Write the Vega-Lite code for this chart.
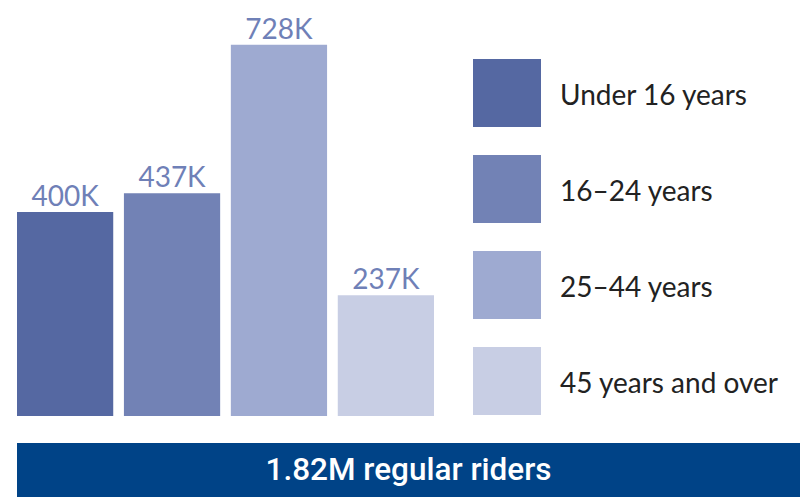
{
  "$schema": "https://vega.github.io/schema/vega-lite/v6.json",
  "padding": {"left": 17, "top": 0, "right": 0, "bottom": 0},
  "background": "white",
  "config": {"view": {"stroke": null}, "style": {"guide-label": {"lineHeight": 8}}},
  "spacing": 27,
  "vconcat": [
    {
      "width": 417,
      "height": 416,
      "data": {"values": [
        {"group": "Under 16 years", "value": 400, "label": "400K"},
        {"group": "16–24 years", "value": 437, "label": "437K"},
        {"group": "25–44 years", "value": 728, "label": "728K"},
        {"group": "45 years and over", "value": 237, "label": "237K"}
      ]},
      "encoding": {
        "x": {"field": "group", "type": "nominal", "sort": null, "axis": null,
              "scale": {"paddingInner": 0.1, "paddingOuter": 0}},
        "y": {"field": "value", "type": "quantitative", "axis": null,
              "scale": {"domain": [0, 816], "nice": false}}
      },
      "layer": [
        {
          "mark": {"type": "bar"},
          "encoding": {
            "color": {"field": "group", "type": "nominal", "sort": null,
              "scale": {"domain": ["Under 16 years", "16–24 years", "25–44 years", "45 years and over"],
                        "range": ["#5568a2", "#7282b5", "#9eaad1", "#c8cee4"]},
              "legend": {"orient": "none", "legendX": 456, "legendY": 59, "title": null,
                "symbolType": "square", "symbolSize": 4624, "symbolStrokeWidth": 0, "symbolOpacity": 1,
                "labelFont": "Lato", "labelFontSize": 28, "labelColor": "#222222",
                "labelBaseline": "line-top",
                "labelOffset": 19, "rowPadding": 28, "labelLimit": 400}
            }
          }
        },
        {
          "mark": {"type": "text", "baseline": "alphabetic", "dy": -6, "font": "Lato", "fontSize": 28, "color": "#6f80b7"},
          "encoding": {"text": {"field": "label", "type": "nominal"}}
        }
      ]
    },
    {
      "width": 783,
      "height": 54,
      "view": {"fill": "#004387", "stroke": null},
      "data": {"values": [{"t": "1.82M regular riders"}]},
      "mark": {"type": "text", "color": "white", "font": "Roboto", "fontSize": 31.5, "fontWeight": 500, "baseline": "middle", "align": "center", "dy": 1},
      "encoding": {"text": {"field": "t", "type": "nominal"}}
    }
  ]
}
